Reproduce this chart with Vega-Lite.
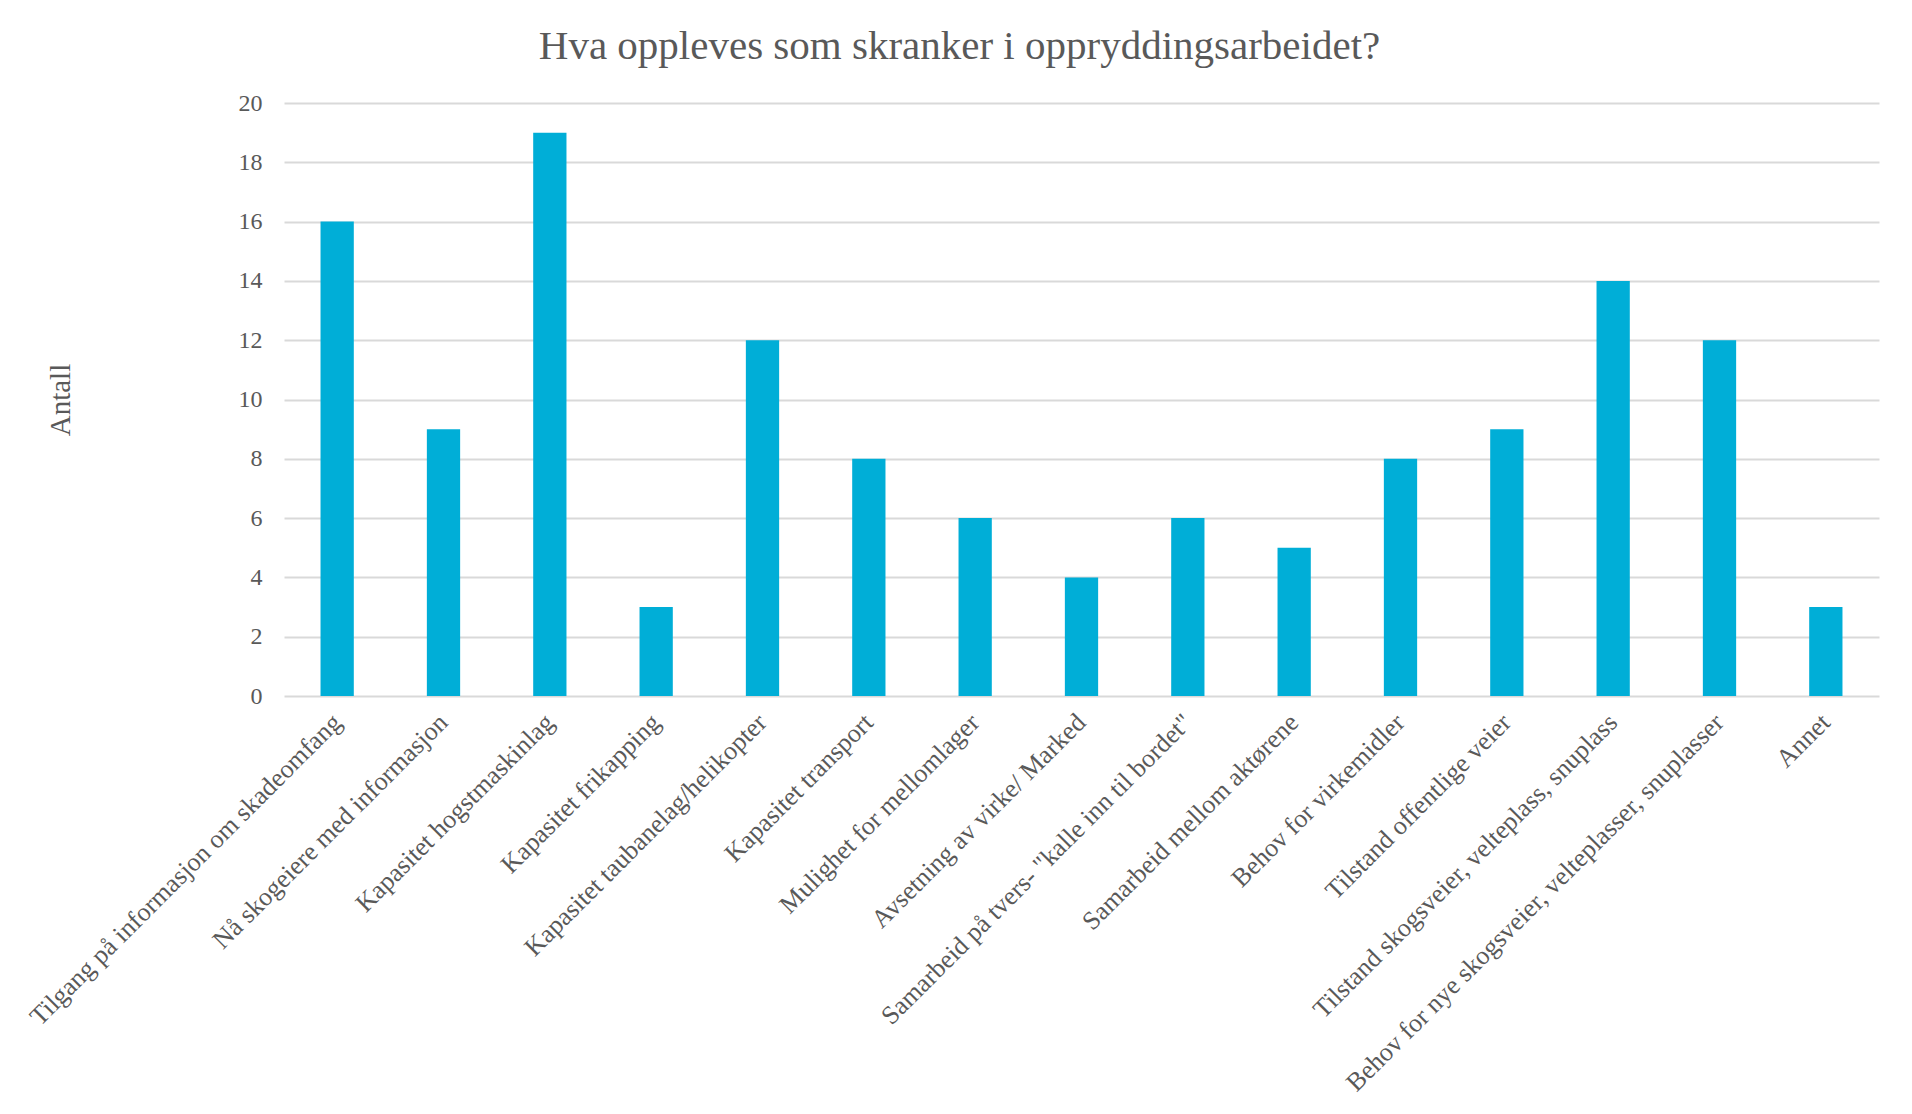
{
  "$schema": "https://vega.github.io/schema/vega-lite/v6.json",
  "autosize": {"type": "none"},
  "padding": {"left": 284, "top": 103, "right": 33, "bottom": 418},
  "width": 1595,
  "height": 593,
  "background": "white",
  "title": {
    "text": "Hva oppleves som skranker i oppryddingsarbeidet?",
    "font": "Liberation Serif",
    "fontSize": 41,
    "fontWeight": "normal",
    "color": "#595959",
    "anchor": "middle",
    "baseline": "alphabetic",
    "offset": -9,
    "dx": -122
  },
  "data": {
    "values": [
      {"kategori": "Tilgang på informasjon om skadeomfang", "antall": 16},
      {"kategori": "Nå skogeiere med informasjon", "antall": 9},
      {"kategori": "Kapasitet hogstmaskinlag", "antall": 19},
      {"kategori": "Kapasitet frikapping", "antall": 3},
      {"kategori": "Kapasitet taubanelag/helikopter", "antall": 12},
      {"kategori": "Kapasitet transport", "antall": 8},
      {"kategori": "Mulighet for mellomlager", "antall": 6},
      {"kategori": "Avsetning av virke/ Marked", "antall": 4},
      {"kategori": "Samarbeid på tvers- \"kalle inn til bordet\"", "antall": 6},
      {"kategori": "Samarbeid mellom aktørene", "antall": 5},
      {"kategori": "Behov for virkemidler", "antall": 8},
      {"kategori": "Tilstand offentlige veier", "antall": 9},
      {"kategori": "Tilstand skogsveier, velteplass, snuplass", "antall": 14},
      {"kategori": "Behov for nye skogsveier, velteplasser, snuplasser", "antall": 12},
      {"kategori": "Annet", "antall": 3}
    ]
  },
  "mark": {"type": "bar", "color": "#00AED7"},
  "encoding": {
    "x": {
      "field": "kategori",
      "type": "nominal",
      "sort": null,
      "scale": {"paddingInner": 0.687, "paddingOuter": 0.3435},
      "axis": {
        "title": null,
        "labelAngle": -45,
        "labelAlign": "right",
        "labelBaseline": "middle",
        "labelFont": "Liberation Serif",
        "labelFontSize": 26,
        "labelColor": "#595959",
        "labelPadding": 22,
        "labelLimit": 0,
        "ticks": false,
        "domain": false,
        "grid": false
      }
    },
    "y": {
      "field": "antall",
      "type": "quantitative",
      "scale": {"domain": [0, 20], "nice": false},
      "axis": {
        "title": "Antall",
        "titleFont": "Liberation Serif",
        "titleFontSize": 29,
        "titleFontWeight": "normal",
        "titleColor": "#595959",
        "titlePadding": 163,
        "values": [0, 2, 4, 6, 8, 10, 12, 14, 16, 18, 20],
        "labelFont": "Liberation Serif",
        "labelFontSize": 24,
        "labelColor": "#595959",
        "labelPadding": 22,
        "ticks": false,
        "domain": false,
        "grid": true,
        "gridColor": "#d9d9d9",
        "gridWidth": 2
      }
    }
  },
  "config": {
    "view": {"stroke": null}
  }
}
